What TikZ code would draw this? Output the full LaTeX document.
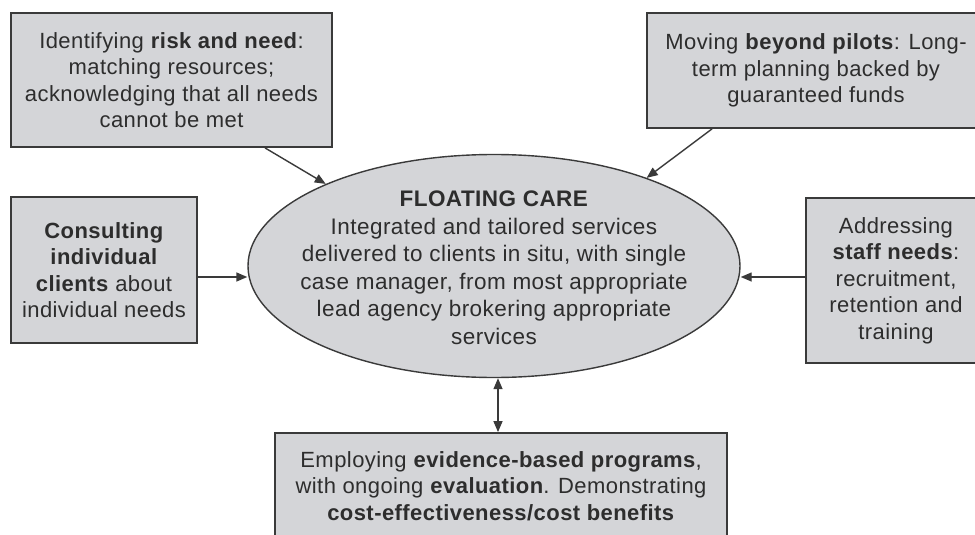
\documentclass[tikz,border=0pt]{standalone}
\usepackage{fontspec}
\setmainfont{Liberation Sans}[LetterSpace=2]
\usetikzlibrary{shapes.geometric,arrows.meta}
\definecolor{boxfill}{RGB}{212,213,216}
\definecolor{edge}{RGB}{58,58,58}
\definecolor{ink}{RGB}{45,45,45}
\begin{document}
\begin{tikzpicture}[x=1pt,y=-1pt,
  txt/.style={font=\fontsize{22}{26.5}\selectfont, text=ink, align=center, inner sep=0pt},
  boxnode/.style={draw=edge, line width=1.8pt, fill=boxfill, inner sep=0pt, txt},
  arr/.style={draw=edge, line width=1.4pt, -{Triangle[length=11pt,width=9pt]}},
  arrboth/.style={draw=edge, line width=1.4pt, {Triangle[length=11pt,width=9pt]}-{Triangle[length=11pt,width=9pt]}},
]
\useasboundingbox (0,0) rectangle (975,535);
\clip (0,0) rectangle (975,535);
\fill[white] (0,0) rectangle (975,535);

% ellipse
\node[ellipse, draw=edge, line width=1.4pt, fill=boxfill, minimum width=492pt, minimum height=223pt, inner sep=0pt] (ell) at (494,266) {};
\node[txt, font=\fontsize{22.5}{27.5}\selectfont] (ellt) at (494,268) {\textbf{FLOATING CARE}\\ Integrated and tailored services\\ delivered to clients in situ, with single\\ case manager, from most appropriate\\ lead agency brokering appropriate\\ services};

% boxes
\node[boxnode, minimum width=321pt, minimum height=134pt] (b1) at (171.5,80)
  {Identifying \textbf{risk and need}:\\ matching resources;\\ acknowledging that all needs\\ cannot be met};
\node[boxnode, minimum width=338pt, minimum height=115pt] (b2) at (816,70.5)
  {Moving \textbf{beyond pilots}: Long-\\ term planning backed by\\ guaranteed funds};
\node[boxnode, minimum width=186pt, minimum height=146pt] (b3) at (104,270)
  {\textbf{Consulting}\\ \textbf{individual}\\ \textbf{clients} about\\ individual needs};
\node[boxnode, minimum width=180pt, minimum height=165pt] (b4) at (896,280.5)
  {Addressing\\ \textbf{staff needs}:\\ recruitment,\\ retention and\\ training};
\node[boxnode, minimum width=452pt, minimum height=140pt] (b5) at (501,503) {};
\node[txt] (b5t) at (501,486)
  {Employing \textbf{evidence-based programs},\\ with ongoing \textbf{evaluation}. Demonstrating\\ \textbf{cost-effectiveness/cost benefits}};

% connectors
\draw[arr] ([xshift=93.5pt]b1.south) -- (ell.154);
\draw[arr] ([xshift=-104pt]b2.south) -- (ell.30);
\draw[arr] ([yshift=-7pt]b3.east) -- ([yshift=-11pt]ell.west);
\draw[arr] ([yshift=3.5pt]b4.west) -- ([yshift=-11pt]ell.east);
\draw[arrboth] ([xshift=4pt]ell.south) -- ([xshift=4pt]ell.south |- b5.north);
\end{tikzpicture}
\end{document}
